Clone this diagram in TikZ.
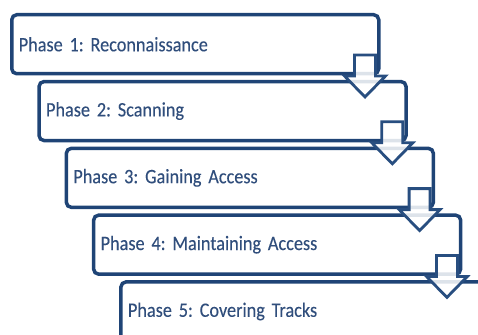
\documentclass[tikz,border=0pt]{standalone}
\usepackage{fontspec}
\setmainfont{Carlito}[FakeStretch=0.89, FakeBold=0.15, WordSpace=0.6]
\frenchspacing
\definecolor{boxblue}{RGB}{31,68,118}
\definecolor{txtblue}{RGB}{48,78,124}
\definecolor{arrblue}{RGB}{40,78,128}
\tikzset{
  phasebox/.style={draw=boxblue, line width=3.5pt, rounded corners=5pt, fill=white,
    anchor=north west, minimum height=59pt, text width=353pt, inner xsep=7pt,
    inner ysep=0pt, align=left, font=\fontsize{20.5}{22}\selectfont, text=txtblue},
  downarrow/.style={draw=arrblue, line width=2.8pt, fill=white, fill opacity=0.85, line join=miter}
}
\newcommand{\downarr}[1]{%
  \path[downarrow] ($(#1)+(-10.5,0)$) -- ++(21,0) -- ++(0,21) -- ++(10,0)
    -- ($(#1)+(0,42)$) -- ++(-20.5,-21) -- ++(10,0) -- cycle;}
\usetikzlibrary{calc}
\begin{document}
\begin{tikzpicture}[x=1pt,y=-1pt]
\useasboundingbox (0,0) rectangle (478,334);
\clip (0,0) rectangle (478,334);
\node[phasebox] (p1) at (10,13) {Phase 1: Reconnaissance};
\node[phasebox] (p2) at (37.3,79.8) {Phase 2: Scanning};
\node[phasebox] (p3) at (64.6,146.6) {Phase 3: Gaining Access};
\node[phasebox] (p4) at (91.9,213.4) {Phase 4: Maintaining Access};
\node[phasebox] (p5) at (119.2,280.2) {Phase 5: Covering Tracks};
\coordinate (a1) at ($(p1.north east)+(-15.5,42)$);
\coordinate (a2) at ($(p2.north east)+(-15.5,42)$);
\coordinate (a3) at ($(p3.north east)+(-15.5,42)$);
\coordinate (a4) at ($(p4.north east)+(-15.5,42)$);
\downarr{a1}
\downarr{a2}
\downarr{a3}
\downarr{a4}
\end{tikzpicture}
\end{document}
